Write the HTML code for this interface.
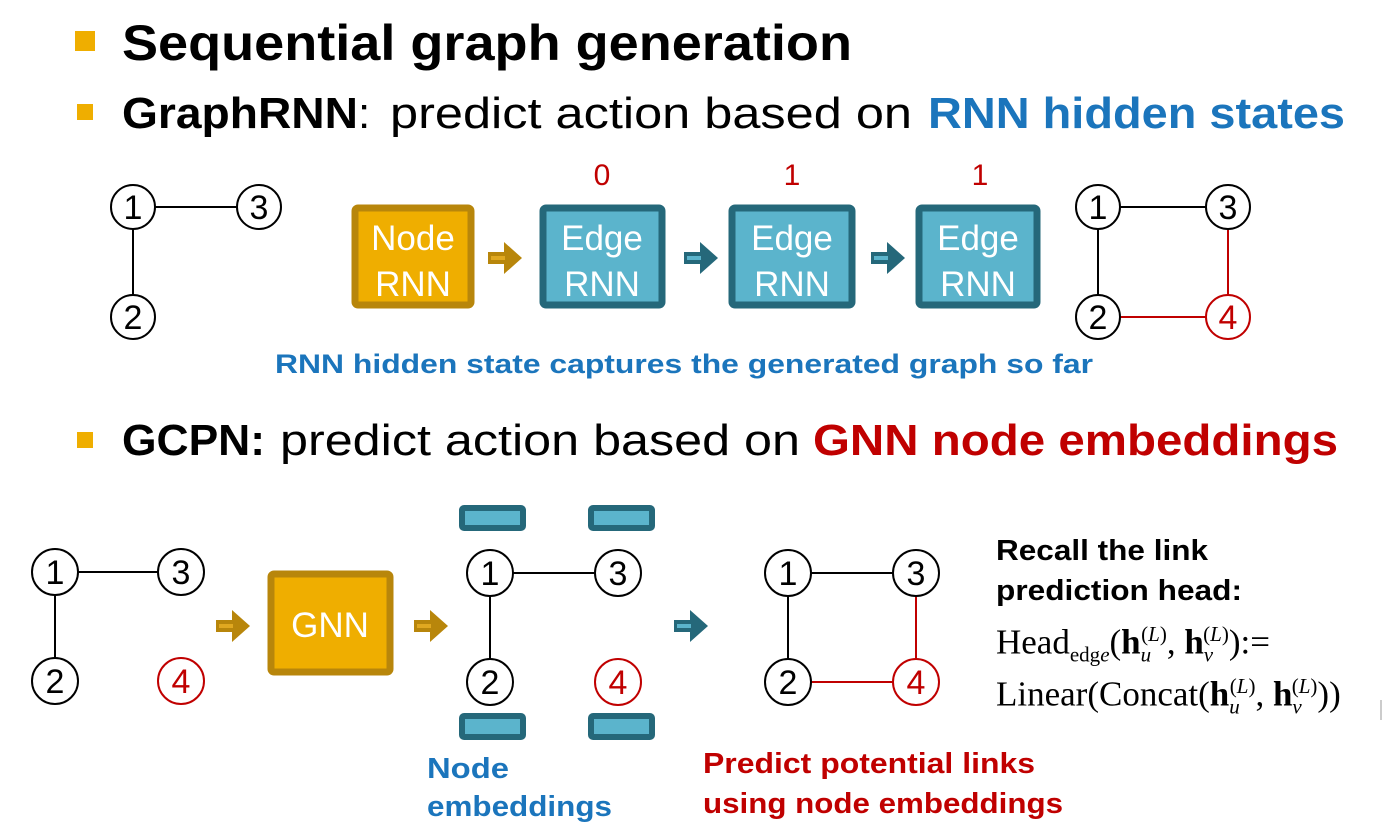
<!DOCTYPE html>
<html><head><meta charset="utf-8"><style>
html,body{margin:0;padding:0;background:#fff;}
.f{position:absolute;font-family:"Liberation Serif",serif;font-size:35px;color:#000;white-space:nowrap;}
.f b{font-weight:bold}
.f sub,.f sup{font-size:21px;}
</style></head><body>
<div style="position:relative;width:1384px;height:834px;overflow:hidden">
<svg width="1384" height="834" style="position:absolute;left:0;top:0" font-family="Liberation Sans, sans-serif">
<defs>
<g id="oa"><rect x="0" y="-6" width="18" height="12" fill="#B8860B"/><polygon points="16,-16 34,0 16,16" fill="#B8860B"/><rect x="3" y="-2" width="14" height="4" fill="#E0A820"/></g>
<g id="ta"><rect x="0" y="-6" width="18" height="12" fill="#25687A"/><polygon points="16,-16 34,0 16,16" fill="#25687A"/><rect x="3" y="-2" width="14" height="4" fill="#5BB4CC"/></g>
</defs>
<line x1="1381" y1="700" x2="1381" y2="720" stroke="#999" stroke-width="1"/>
<rect x="75" y="31" width="20" height="20" fill="#EFAE00"/>
<rect x="77" y="104" width="16" height="16" fill="#EFAE00"/>
<rect x="77" y="432" width="16" height="16" fill="#EFAE00"/>
<text x="122" y="60" font-size="50" font-weight="bold" textLength="730" lengthAdjust="spacingAndGlyphs">Sequential graph generation</text>
<text x="122" y="128" font-size="44" font-weight="bold" textLength="236" lengthAdjust="spacingAndGlyphs">GraphRNN</text>
<text x="358" y="128" font-size="44">:</text>
<text x="390" y="128" font-size="44" textLength="522" lengthAdjust="spacingAndGlyphs">predict action based on</text>
<text x="928" y="128" font-size="44" font-weight="bold" fill="#1B75BC" textLength="417" lengthAdjust="spacingAndGlyphs">RNN hidden states</text>

<g stroke="#000" stroke-width="2" fill="none">
<line x1="133" y1="207" x2="259" y2="207"/><line x1="133" y1="207" x2="133" y2="317"/>
<line x1="1098" y1="207" x2="1228" y2="207"/><line x1="1098" y1="207" x2="1098" y2="317"/>
<line x1="55" y1="572" x2="181" y2="572"/><line x1="55" y1="572" x2="55" y2="681"/>
<line x1="490" y1="573" x2="618" y2="573"/><line x1="490" y1="573" x2="490" y2="682"/>
<line x1="788" y1="573" x2="916" y2="573"/><line x1="788" y1="573" x2="788" y2="682"/>
</g>
<g stroke="#C00000" stroke-width="2" fill="none">
<line x1="1228" y1="207" x2="1228" y2="317"/><line x1="1098" y1="317" x2="1228" y2="317"/>
<line x1="916" y1="573" x2="916" y2="682"/><line x1="788" y1="682" x2="916" y2="682"/>
</g>
<g font-size="34" text-anchor="middle">
<g fill="#fff" stroke="#000" stroke-width="2">
<circle cx="133" cy="207" r="22"/><circle cx="259" cy="207" r="22"/><circle cx="133" cy="317" r="22"/>
<circle cx="1098" cy="207" r="22"/><circle cx="1228" cy="207" r="22"/><circle cx="1098" cy="317" r="22"/>
<circle cx="55" cy="572" r="23"/><circle cx="181" cy="572" r="23"/><circle cx="55" cy="681" r="23"/>
<circle cx="490" cy="573" r="23"/><circle cx="618" cy="573" r="23"/><circle cx="490" cy="682" r="23"/>
<circle cx="788" cy="573" r="23"/><circle cx="916" cy="573" r="23"/><circle cx="788" cy="682" r="23"/>
</g>
<g fill="#fff" stroke="#C00000" stroke-width="2">
<circle cx="1228" cy="317" r="22"/><circle cx="181" cy="681" r="23"/><circle cx="618" cy="682" r="23"/><circle cx="916" cy="682" r="23"/>
</g>
<g fill="#000">
<text x="133" y="219">1</text><text x="259" y="219">3</text><text x="133" y="329">2</text>
<text x="1098" y="219">1</text><text x="1228" y="219">3</text><text x="1098" y="329">2</text>
<text x="55" y="584">1</text><text x="181" y="584">3</text><text x="55" y="693">2</text>
<text x="490" y="585">1</text><text x="618" y="585">3</text><text x="490" y="694">2</text>
<text x="788" y="585">1</text><text x="916" y="585">3</text><text x="788" y="694">2</text>
</g>
<g fill="#C00000">
<text x="1228" y="329">4</text><text x="181" y="693">4</text><text x="618" y="694">4</text><text x="916" y="694">4</text>
<text x="602" y="185" font-size="30">0</text><text x="792" y="185" font-size="30">1</text><text x="980" y="185" font-size="30">1</text>
</g>
</g>
<rect x="355" y="208" width="116" height="97" rx="3" fill="#EFAE00" stroke="#B8860B" stroke-width="7"/>
<rect x="543" y="208" width="119" height="97" rx="3" fill="#5BB4CC" stroke="#25687A" stroke-width="7"/>
<rect x="732" y="208" width="120" height="97" rx="3" fill="#5BB4CC" stroke="#25687A" stroke-width="7"/>
<rect x="919" y="208" width="118" height="97" rx="3" fill="#5BB4CC" stroke="#25687A" stroke-width="7"/>
<rect x="271" y="574" width="119" height="98" rx="3" fill="#EFAE00" stroke="#B8860B" stroke-width="7"/>
<g fill="#fff" font-size="35" text-anchor="middle">
<text x="413" y="250">Node</text><text x="413" y="296">RNN</text>
<text x="602" y="250">Edge</text><text x="602" y="296">RNN</text>
<text x="792" y="250">Edge</text><text x="792" y="296">RNN</text>
<text x="978" y="250">Edge</text><text x="978" y="296">RNN</text>
<text x="330" y="637">GNN</text>
</g>
<use href="#oa" x="488" y="258"/>
<use href="#ta" x="684" y="258"/>
<use href="#ta" x="871" y="258"/>
<use href="#oa" x="216" y="626"/>
<use href="#oa" x="414" y="626"/>
<use href="#ta" x="674" y="626"/>
<g fill="#5BB4CC" stroke="#25687A" stroke-width="6">
<rect x="462" y="508" width="61" height="20" rx="2"/><rect x="591" y="508" width="61" height="20" rx="2"/>
<rect x="462" y="716" width="61" height="21" rx="2"/><rect x="591" y="716" width="61" height="21" rx="2"/>
</g>
<text x="275" y="373" font-size="27" font-weight="bold" fill="#1B75BC" textLength="818" lengthAdjust="spacingAndGlyphs">RNN hidden state captures the generated graph so far</text>
<text x="122" y="455" font-size="44" font-weight="bold" textLength="143" lengthAdjust="spacingAndGlyphs">GCPN:</text>
<text x="280" y="455" font-size="44" textLength="520" lengthAdjust="spacingAndGlyphs">predict action based on</text>
<text x="813" y="455" font-size="44" font-weight="bold" fill="#C00000" textLength="525" lengthAdjust="spacingAndGlyphs">GNN node embeddings</text>
<g font-size="29" font-weight="bold" fill="#1B75BC">
<text x="427" y="778" textLength="82" lengthAdjust="spacingAndGlyphs">Node</text>
<text x="427" y="816" textLength="185" lengthAdjust="spacingAndGlyphs">embeddings</text>
</g>
<g font-size="29" font-weight="bold" fill="#C00000">
<text x="703" y="773" textLength="332" lengthAdjust="spacingAndGlyphs">Predict potential links</text>
<text x="703" y="813" textLength="360" lengthAdjust="spacingAndGlyphs">using node embeddings</text>
</g>
<g font-size="29" font-weight="bold" fill="#000">
<text x="996" y="560" textLength="212" lengthAdjust="spacingAndGlyphs">Recall the link</text>
<text x="996" y="600" textLength="246" lengthAdjust="spacingAndGlyphs">prediction head:</text>
</g>
</svg>
<div class="f" style="left:996px;top:622px">Head<sub>edg<i>e</i></sub>(<b>h</b><sub><i>u</i></sub><sup style="margin-left:-10px">(<i>L</i>)</sup>, <b>h</b><sub><i>v</i></sub><sup style="margin-left:-10px">(<i>L</i>)</sup>):=</div>
<div class="f" style="left:996px;top:674px">Linear(Concat(<b>h</b><sub><i>u</i></sub><sup style="margin-left:-10px">(<i>L</i>)</sup>, <b>h</b><sub><i>v</i></sub><sup style="margin-left:-10px">(<i>L</i>)</sup>))</div>
</div>
</body></html>
